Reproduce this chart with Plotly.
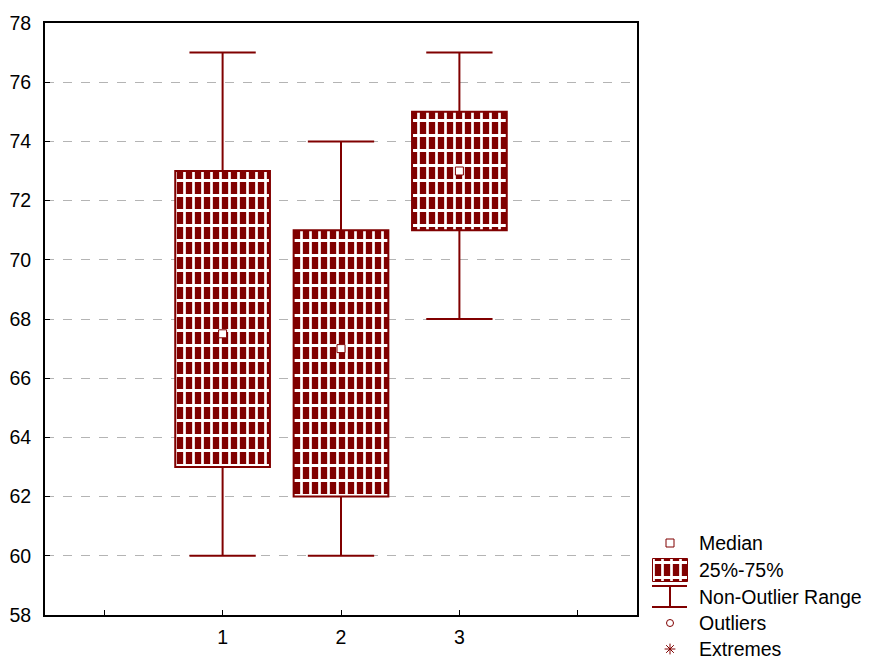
import plotly.graph_objects as go

# ---- data ----
categories = [1, 2, 3]
q1 = [63, 62, 71]
q3 = [73, 71, 75]
medians = [67.5, 67, 73]
whisker_low = [60, 60, 68]
whisker_high = [77, 74, 77]
x_tickvals = [0, 1, 2, 3, 4]
x_ticktext = ["", "1", "2", "3", ""]
y_tickvals = list(range(58, 80, 2))
legend_labels = ["Median", "25%-75%", "Non-Outlier Range", "Outliers", "Extremes"]

RED = "#800000"
FONT = "Liberation Sans, Arial, sans-serif"
cap_half = 0.28

V_PAT = dict(shape="|", fillmode="replace", bgcolor=RED, fgcolor="white", size=9, solidity=0.3)
H_PAT = dict(shape="-", fillmode="replace", bgcolor="rgba(0,0,0,0)", fgcolor="white", size=15, solidity=0.2)

fig = go.Figure()

heights = [b - a for a, b in zip(q1, q3)]
# boxes (25%-75%): vertical stripes then horizontal stripes overlaid
fig.add_trace(go.Bar(
    x=categories, y=heights, base=q1, width=0.8,
    marker=dict(color=RED, line=dict(color=RED, width=0), pattern=V_PAT),
    showlegend=False, hoverinfo="skip"))
fig.add_trace(go.Bar(
    x=categories, y=heights, base=q1, width=0.8,
    marker=dict(color="rgba(0,0,0,0)", line=dict(color=RED, width=2), pattern=H_PAT),
    showlegend=False, hoverinfo="skip"))

# whiskers
wx, wy = [], []
for c, lo, hi, a, b in zip(categories, whisker_low, whisker_high, q1, q3):
    wx += [c, c, None, c - cap_half, c + cap_half, None,
           c, c, None, c - cap_half, c + cap_half, None]
    wy += [b, hi, None, hi, hi, None, a, lo, None, lo, lo, None]
fig.add_trace(go.Scatter(x=wx, y=wy, mode="lines", line=dict(color=RED, width=2),
                         showlegend=False, hoverinfo="skip"))

# medians
fig.add_trace(go.Scatter(x=categories, y=medians, mode="markers",
                         marker=dict(symbol="square", size=8, color="white",
                                     line=dict(color=RED, width=1)),
                         showlegend=False))

# ---- custom legend on a helper axis (range in window pixels) ----
lx = 670
ly = [543, 570, 597, 623, 649]
fig.add_trace(go.Scatter(x=[lx], y=[ly[0]], mode="markers", xaxis="x2", yaxis="y2",
                         marker=dict(symbol="square-open", size=8, color=RED, line=dict(width=1)),
                         showlegend=False, hoverinfo="skip"))
fig.add_trace(go.Bar(x=[lx], y=[23], base=[ly[1] - 11.5], width=35, xaxis="x2", yaxis="y2",
                     marker=dict(color=RED, line=dict(color=RED, width=0), pattern=V_PAT),
                     showlegend=False, hoverinfo="skip"))
fig.add_trace(go.Bar(x=[lx], y=[23], base=[ly[1] - 11.5], width=35, xaxis="x2", yaxis="y2",
                     marker=dict(color="rgba(0,0,0,0)", line=dict(color=RED, width=1), pattern=H_PAT),
                     showlegend=False, hoverinfo="skip"))
fig.add_trace(go.Scatter(x=[652, 687, None, lx, lx, None, 652, 687],
                         y=[ly[2] - 11, ly[2] - 11, None, ly[2] - 11, ly[2] + 10, None, ly[2] + 10, ly[2] + 10],
                         mode="lines", xaxis="x2", yaxis="y2", line=dict(color=RED, width=2),
                         showlegend=False, hoverinfo="skip"))
fig.add_trace(go.Scatter(x=[lx], y=[ly[3]], mode="markers", xaxis="x2", yaxis="y2",
                         marker=dict(symbol="circle-open", size=7, color=RED, line=dict(width=1)),
                         showlegend=False, hoverinfo="skip"))
fig.add_trace(go.Scatter(x=[lx], y=[ly[4]], mode="markers", xaxis="x2", yaxis="y2",
                         marker=dict(symbol="asterisk-open", size=9, color=RED, line=dict(width=1, color=RED)),
                         showlegend=False, hoverinfo="skip"))
for lab, yy in zip(legend_labels, ly):
    fig.add_annotation(x=697, y=yy, xref="x2", yref="y2", text=lab, showarrow=False,
                       xanchor="left", yanchor="middle", font=dict(size=19.5, color="black", family=FONT))

# The page body has an 8px margin: figure coords = window coords - 8
W, H = 867, 652
fig.update_layout(
    template="none",
    width=W, height=H,
    margin=dict(l=0, r=0, t=15, b=0, pad=0),
    paper_bgcolor="white", plot_bgcolor="white",
    font=dict(family=FONT, size=19, color="black"),
    showlegend=False,
    barmode="overlay",
    xaxis=dict(domain=[37 / W, 629 / W], range=[-0.5, 4.5], tickvals=x_tickvals,
               ticktext=x_ticktext, ticks="inside", ticklen=5, tickwidth=1, tickcolor="black",
               showline=True, linecolor="black", linewidth=2, mirror=True,
               showgrid=False, zeroline=False, automargin=False,
               ticklabelstandoff=4, tickfont=dict(size=19.5)),
    yaxis=dict(domain=[45 / 637, 1], range=[58, 78], tickvals=y_tickvals,
               ticks="inside", ticklen=5, tickwidth=1, tickcolor="black",
               showline=True, linecolor="black", linewidth=2, mirror=True,
               showgrid=True, gridcolor="#b4b4b4", griddash="dash", gridwidth=1,
               zeroline=False, automargin=False, ticklabelstandoff=8,
               tickfont=dict(size=19.5)),
    xaxis2=dict(domain=[632 / W, 1], range=[640, 875], visible=False, anchor="y2",
                fixedrange=True),
    yaxis2=dict(domain=[0, 135 / 637], range=[660, 525], visible=False, anchor="x2",
                fixedrange=True),
)

fig.write_html("out.html")
